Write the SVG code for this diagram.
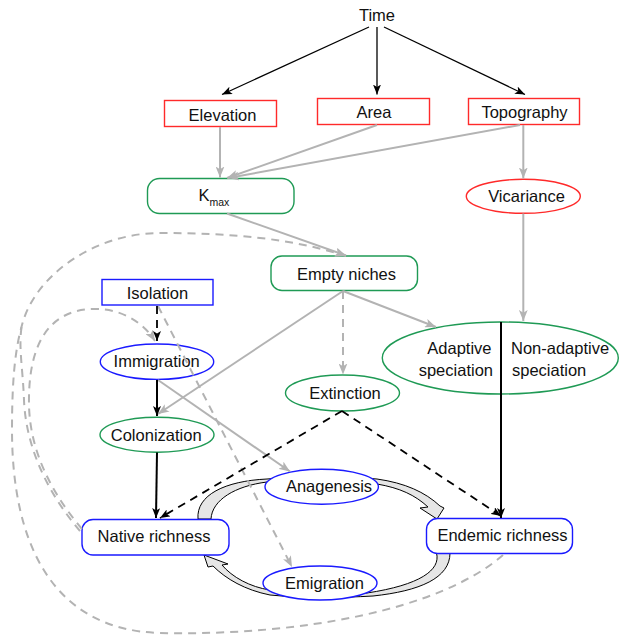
<svg xmlns="http://www.w3.org/2000/svg" width="619" height="642" viewBox="0 0 619 642">
<style>
text{font-family:"Liberation Sans",Arial,sans-serif;font-size:16.5px;fill:#111}
.red{fill:#fff;stroke:#ff2a2a;stroke-width:1.4}
.grn{fill:#fff;stroke:#1f9a55;stroke-width:1.4}
.blu{fill:#fff;stroke:#1a1aff;stroke-width:1.4}
.k{fill:none;stroke:#000;stroke-width:1.3}
.k2{fill:none;stroke:#000;stroke-width:2}
.kd{fill:none;stroke:#000;stroke-width:1.8;stroke-dasharray:8 6}
.g{fill:none;stroke:#b3b3b3;stroke-width:2}
.gd{fill:none;stroke:#b3b3b3;stroke-width:2;stroke-dasharray:8 6}
.blk{fill:#e6e6e6;stroke:#000;stroke-width:1}
.m{text-anchor:middle}
</style>
<defs>
<marker id="ak" viewBox="0 0 10 8" refX="10" refY="4" markerWidth="10" markerHeight="8" markerUnits="userSpaceOnUse" orient="auto"><path d="M0,0 L10,4 L0,8 L2.5,4 Z" fill="#000"/></marker>
<marker id="ag" viewBox="0 0 10 8" refX="10" refY="4" markerWidth="11" markerHeight="9" markerUnits="userSpaceOnUse" orient="auto"><path d="M0,0 L10,4 L0,8 L2.5,4 Z" fill="#b3b3b3"/></marker>
</defs>

<g id="flows">
<path class="blk" d="M 198 519 C 196 495, 225 481, 267 479 C 300 476, 345 476, 377 479 C 405 483, 425 492, 440 506 L 444 508 L 437 519 L 420 508 L 428 507 C 415 495, 400 488, 377 484 C 345 481, 300 481, 267 482 C 235 486, 212 500, 211 519 Z"/>
<path class="blk" d="M 436.5 553 C 441 570, 420 585, 367 593 C 340 595, 300 595, 270 590 C 250 587, 232 577, 222 565 L 228 564 L 204 555 L 208 567 L 213 566 C 226 579, 245 590, 270 595 C 300 598, 340 598, 373 596 C 420 591, 450 578, 450 553 Z"/>
</g>

<g id="time"><text class="m" x="377" y="21">Time</text></g>
<g id="elevation"><rect class="red" x="164.5" y="100.5" width="112" height="26"/><text class="m" x="222.5" y="120.5">Elevation</text></g>
<g id="area"><rect class="red" x="317.5" y="98.5" width="112" height="26"/><text class="m" x="374" y="118">Area</text></g>
<g id="topography"><rect class="red" x="468.5" y="98.5" width="111" height="26"/><text class="m" x="524.5" y="118">Topography</text></g>
<g id="kmax"><rect class="grn" x="147.5" y="178.5" width="146.5" height="35" rx="12"/><text x="198.5" y="201">K<tspan font-size="10.5" dy="5">max</tspan></text></g>
<g id="vicariance"><ellipse class="red" cx="523.3" cy="196.3" rx="57" ry="17"/><text class="m" x="526.5" y="202">Vicariance</text></g>
<g id="empty-niches"><rect class="grn" x="271" y="256" width="146.5" height="34.5" rx="11"/><text class="m" x="346.5" y="279.5">Empty niches</text></g>
<g id="isolation"><rect class="blu" x="102" y="279.5" width="111" height="25.5"/><text class="m" x="157.5" y="299">Isolation</text></g>
<g id="immigration"><ellipse class="blu" cx="157" cy="361.7" rx="56.7" ry="17.7"/><text class="m" x="156.7" y="367.3">Immigration</text></g>
<g id="colonization"><ellipse class="grn" cx="157" cy="434.7" rx="57" ry="17.5"/><text class="m" x="156.2" y="440.7">Colonization</text></g>
<g id="extinction"><ellipse class="grn" cx="342.5" cy="393" rx="57" ry="18"/><text class="m" x="345" y="398.5">Extinction</text></g>
<g id="speciation"><ellipse class="grn" cx="500.3" cy="358" rx="118" ry="36"/><line x1="501" y1="322" x2="501" y2="394" stroke="#000" stroke-width="2"/>
<text x="491.5" y="354" text-anchor="end">Adaptive</text><text x="493" y="376" text-anchor="end">speciation</text>
<text x="511" y="354">Non-adaptive</text><text x="512" y="376">speciation</text></g>
<g id="anagenesis"><ellipse class="blu" cx="321.7" cy="486.8" rx="56.7" ry="17.5"/><text class="m" x="329" y="492.3">Anagenesis</text></g>
<g id="emigration"><ellipse class="blu" cx="320" cy="583" rx="57" ry="17"/><text class="m" x="324.5" y="589">Emigration</text></g>
<g id="native-richness"><rect class="blu" x="82" y="519.5" width="147" height="35.5" rx="11"/><text class="m" x="154" y="542.3">Native richness</text></g>
<g id="endemic-richness"><rect class="blu" x="426.5" y="518.5" width="146" height="35" rx="11"/><text class="m" x="502.5" y="540.7">Endemic richness</text></g>

<g id="connectors">
<line class="k" x1="369" y1="27" x2="222" y2="94.5" marker-end="url(#ak)"/>
<line class="k" x1="377" y1="27" x2="377" y2="94.5" marker-end="url(#ak)"/>
<line class="k" x1="384" y1="27" x2="525" y2="94.5" marker-end="url(#ak)"/>
<line class="g" x1="220" y1="127" x2="220" y2="177.5" marker-end="url(#ag)"/>
<line class="g" x1="377" y1="125" x2="227" y2="178" marker-end="url(#ag)"/>
<line class="g" x1="520" y1="125" x2="228" y2="178" marker-end="url(#ag)"/>
<line class="g" x1="523.3" y1="125" x2="523.3" y2="178.5" marker-end="url(#ag)"/>
<line class="g" x1="227" y1="213.5" x2="346" y2="255.5" marker-end="url(#ag)"/>
<line class="g" x1="523.3" y1="213.5" x2="523.3" y2="321" marker-end="url(#ag)"/>
<line class="g" x1="343" y1="291" x2="436" y2="327" marker-end="url(#ag)"/>
<line class="gd" x1="343" y1="291" x2="343" y2="374.5" marker-end="url(#ag)"/>
<line class="g" x1="343" y1="291" x2="158" y2="414" marker-end="url(#ag)"/>
<line class="g" x1="158" y1="380" x2="290" y2="471.5" marker-end="url(#ag)"/>
<line class="gd" x1="158" y1="306" x2="292" y2="567" marker-end="url(#ag)"/>
<path class="gd" d="M 503 555 C 440 610, 300 636, 160 633 C 50 630, 12 540, 12 430 C 12 380, 15 350, 22 325 C 35 275, 95 233, 160 233 C 230 233, 290 238, 346 256" marker-end="url(#ag)"/>
<path class="gd" d="M 80 531 C 50 496, 26 450, 24 400 C 23 370, 18 345, 22 325"/>
<path class="gd" d="M 82 529 C 55 497, 30 455, 29 405 C 28 350, 45 309, 95 309 C 125 309, 145 325, 155 341" marker-end="url(#ag)"/>
<line class="kd" x1="157" y1="306" x2="157" y2="341" marker-end="url(#ak)"/>
<line class="k2" x1="157" y1="380" x2="157" y2="416" marker-end="url(#ak)"/>
<line class="k2" x1="157" y1="452.5" x2="156" y2="518" marker-end="url(#ak)"/>
<line class="kd" x1="342" y1="411" x2="160" y2="518" marker-end="url(#ak)"/>
<line class="kd" x1="342" y1="411" x2="501" y2="516" marker-end="url(#ak)"/>
<line class="k2" x1="501" y1="394" x2="501" y2="518" marker-end="url(#ak)"/>
</g>
</svg>
